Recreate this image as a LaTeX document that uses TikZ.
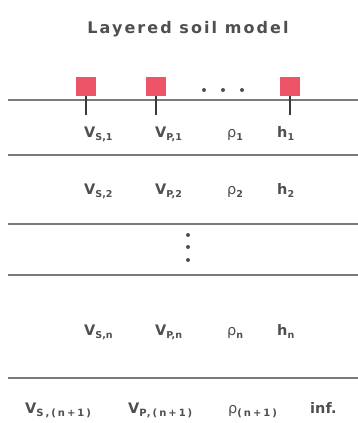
\documentclass[tikz,border=0pt]{standalone}
\usepackage{fontspec}
\setmainfont{DejaVu Sans}
\newfontfamily\titlefont[LetterSpace=13]{DejaVu Sans}
\newfontfamily\subwide[LetterSpace=20]{DejaVu Sans}
\definecolor{txt}{HTML}{4F4F4F}
\definecolor{sq}{HTML}{EE5468}
\definecolor{lyr}{HTML}{7A7A7A}
\definecolor{stemc}{HTML}{3A3A3A}
\newcommand{\lab}[2]{#1\raisebox{-3.5pt}{\fontsize{9.5}{9.5}\selectfont #2}}
\newcommand{\rlab}[2]{{\mdseries #1}\raisebox{-3.5pt}{\fontsize{9.5}{9.5}\selectfont #2}}
\newcommand{\wlab}[2]{#1\raisebox{-3.5pt}{\subwide\fontsize{10}{10}\selectfont #2}}
\newcommand{\wrlab}[2]{{\mdseries #1}\raisebox{-3.5pt}{\subwide\fontsize{10}{10}\selectfont #2}}
\begin{document}
\begin{tikzpicture}[x=1pt,y=-1pt,
  lbl/.style={anchor=base west, inner sep=0pt, text=txt, font=\fontsize{14.5}{14.5}\selectfont\bfseries},
  ttl/.style={anchor=base, inner sep=0pt, text=txt, font=\titlefont\fontsize{16}{16}\selectfont\bfseries},
  sqbox/.style={fill=sq, draw=none, minimum width=20pt, minimum height=19pt, inner sep=0pt},
  stemline/.style={draw=stemc, line width=1.6pt},
  layer/.style={draw=lyr, line width=1.6pt},
  dotc/.style={circle, fill=txt, draw=none, minimum size=4pt, inner sep=0pt}]
\useasboundingbox (0,0) rectangle (358,423);

\node[ttl] (title) at (188,34) {Layered soil model};

% surface and squares
\coordinate (l0a) at (8,100); \coordinate (l0b) at (358,100);
\draw[layer] (l0a) -- (l0b);
\node[sqbox] (s1) at (86,86) {};
\node[sqbox] (s2) at (156,86) {};
\node[sqbox] (s3) at (290,86) {};
\coordinate (t1) at (86,115); \coordinate (t2) at (156,115); \coordinate (t3) at (290,115);
\draw[stemline] (s1.south) -- (t1);
\draw[stemline] (s2.south) -- (t2);
\draw[stemline] (s3.south) -- (t3);
\node[dotc] (h1d) at (204,90) {};
\node[dotc] (h2d) at (223,90) {};
\node[dotc] (h3d) at (242,90) {};

% layer boundaries
\coordinate (l1a) at (8,155); \coordinate (l1b) at (358,155);
\coordinate (l2a) at (8,224); \coordinate (l2b) at (358,224);
\coordinate (l3a) at (8,275); \coordinate (l3b) at (358,275);
\coordinate (l4a) at (8,378); \coordinate (l4b) at (358,378);
\draw[layer] (l1a) -- (l1b);
\draw[layer] (l2a) -- (l2b);
\draw[layer] (l3a) -- (l3b);
\draw[layer] (l4a) -- (l4b);

% vertical dots
\node[dotc] (v1d) at (188,235) {};
\node[dotc] (v2d) at (188,247) {};
\node[dotc] (v3d) at (188,260) {};

% row 1
\node[lbl] (vs1) at (84,137) {\lab{V}{S,1}};
\node[lbl] (vp1) at (155,137) {\lab{V}{P,1}};
\node[lbl] (r1) at (227,137) {\rlab{ρ}{1}};
\node[lbl] (hh1) at (277,137) {\lab{h}{1}};
% row 2
\node[lbl] (vs2) at (84,194) {\lab{V}{S,2}};
\node[lbl] (vp2) at (155,194) {\lab{V}{P,2}};
\node[lbl] (r2) at (227,194) {\rlab{ρ}{2}};
\node[lbl] (hh2) at (277,194) {\lab{h}{2}};
% row n
\node[lbl] (vsn) at (84,335) {\lab{V}{S,n}};
\node[lbl] (vpn) at (155,335) {\lab{V}{P,n}};
\node[lbl] (rn) at (227,335) {\rlab{ρ}{n}};
\node[lbl] (hhn) at (277,335) {\lab{h}{n}};
% half-space
\node[lbl] (vsh) at (25,413) {\wlab{V}{S,(n+1)}};
\node[lbl] (vph) at (128,413) {\wlab{V}{P,(n+1)}};
\node[lbl] (rh) at (228,413) {\wrlab{ρ}{(n+1)}};
\node[lbl] (inf) at (310,413) {inf.};
\end{tikzpicture}
\end{document}
